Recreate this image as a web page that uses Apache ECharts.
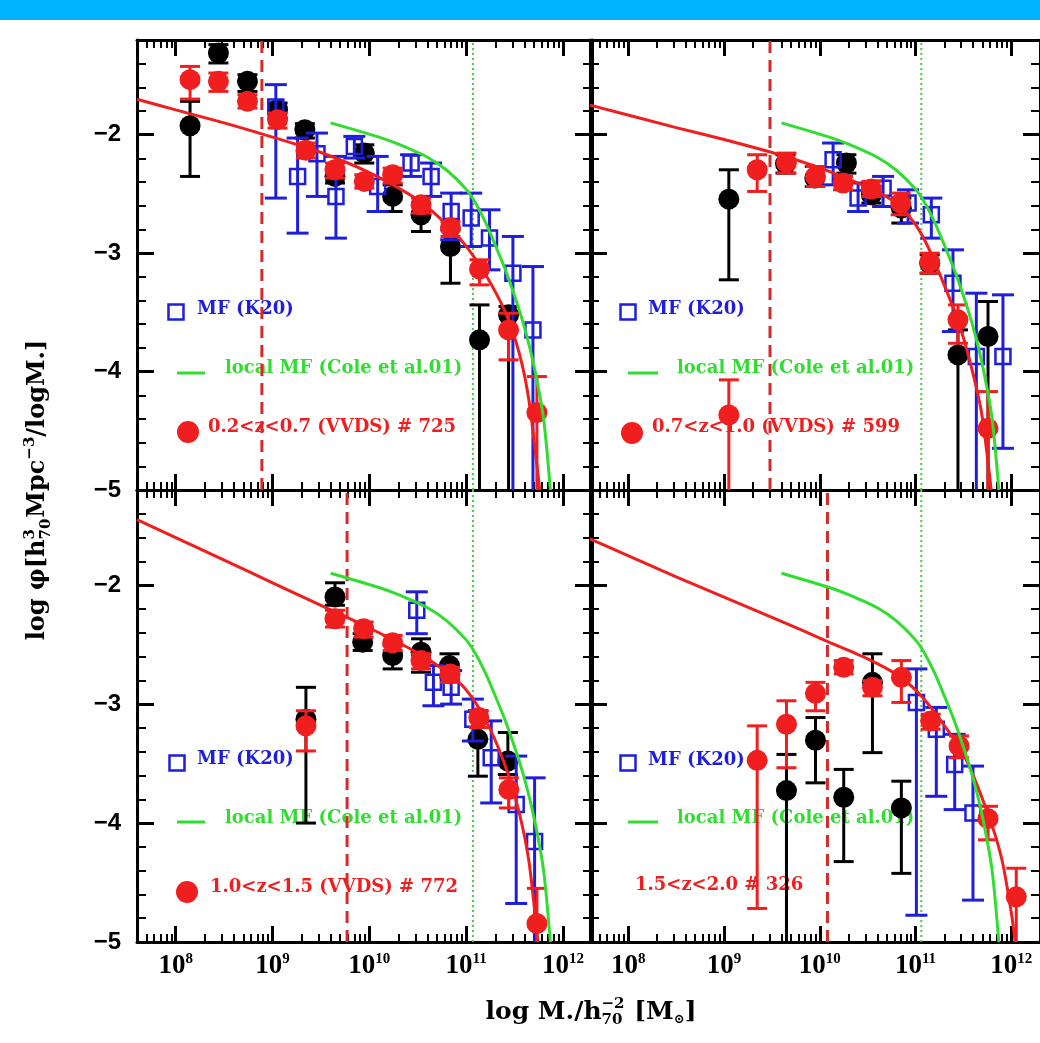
<!DOCTYPE html>
<html><head><meta charset="utf-8">
<script src="https://cdn.jsdelivr.net/npm/echarts@6/dist/echarts.min.js"></script>
<style>html,body{margin:0;padding:0;background:#fff}#c{width:1040px;height:1043px}</style>
</head><body><div id="c"></div>
<script>
// ---------------- data (log10 M, log10 phi, errLow, errHigh) ----------------
const X_MIN = 7.6, X_MAX = 12.3, Y_MIN = -5, Y_MAX = -1.2;
const xMajor = [8, 9, 10, 11, 12];
const xTickExp = ['8', '9', '10', '11', '12'];
const yMajor = [-5, -4, -3, -2];

const panelLabels = ['0.2<z<0.7 (VVDS) # 725', '0.7<z<1.0 (VVDS) # 599', '1.0<z<1.5 (VVDS) # 772', '1.5<z<2.0 # 326'];
const redCut = [8.89, 9.48, 9.77, 10.08];
const greenCut = [11.07, 11.06, 11.07, 11.06];

const TL_black = [[8.148,-1.924,-2.352,-1.718],[8.441,-1.310,-1.394,-1.239],[8.741,-1.549,-1.634,-1.493],[9.052,-1.789,-1.859,-1.732],[9.334,-1.958,-2.028,-1.907],[9.645,-2.352,-2.408,-2.296],[9.948,-2.155,-2.239,-2.085],[10.241,-2.521,-2.648,-2.423],[10.534,-2.676,-2.817,-2.577],[10.838,-2.944,-3.254,-2.803],[11.138,-3.732,-5.5,-3.437],[11.438,-3.521,-5.5,-3.450]];
const TL_red = [[8.148,-1.535,-1.699,-1.423],[8.441,-1.549,-1.634,-1.479],[8.741,-1.718,-1.775,-1.662],[9.052,-1.873,-1.944,-1.817],[9.345,-2.132,-2.197,-2.070],[9.645,-2.296,-2.366,-2.239],[9.948,-2.394,-2.451,-2.338],[10.241,-2.338,-2.408,-2.282],[10.534,-2.592,-2.662,-2.535],[10.838,-2.783,-2.859,-2.732],[11.138,-3.135,-3.268,-3.056],[11.438,-3.648,-3.901,-3.507],[11.731,-4.346,-5.5,-4.042]];
const TL_blue = [[9.034,-1.766,-2.535,-1.577],[9.259,-2.352,-2.831,-2.028],[9.459,-2.161,-2.521,-1.986],[9.655,-2.521,-2.873,-2.183],[9.845,-2.099,-2.197,-2.014],[10.086,-2.437,-2.648,-2.183],[10.431,-2.239,-2.352,-2.169],[10.638,-2.352,-2.521,-2.239],[10.845,-2.648,-2.887,-2.493],[11.052,-2.704,-2.944,-2.493],[11.241,-2.873,-3.141,-2.634],[11.483,-3.169,-5.5,-2.859],[11.690,-3.648,-5.5,-3.113]];
const TL_fit = [[7.60,-1.70],[8.0,-1.79],[8.5,-1.90],[9.0,-2.02],[9.5,-2.15],[10.0,-2.32],[10.5,-2.55],[10.8,-2.76],[11.0,-2.94],[11.2,-3.18],[11.4,-3.49],[11.55,-3.85],[11.65,-4.25],[11.76,-5.0]];

const TR_black = [[9.050,-2.544,-3.225,-2.296],[9.642,-2.245,-2.324,-2.169],[9.948,-2.366,-2.437,-2.268],[10.278,-2.239,-2.324,-2.169],[10.539,-2.507,-2.577,-2.437],[10.852,-2.620,-2.746,-2.535],[11.148,-3.085,-3.169,-3.014],[11.443,-3.859,-5.5,-3.648],[11.757,-3.704,-5.5,-3.408]];
const TR_red = [[9.050,-4.366,-5.5,-4.070],[9.346,-2.296,-2.479,-2.169],[9.652,-2.234,-2.324,-2.155],[9.955,-2.352,-2.437,-2.268],[10.243,-2.408,-2.465,-2.352],[10.539,-2.459,-2.521,-2.394],[10.845,-2.577,-2.676,-2.493],[11.148,-3.076,-3.169,-3.000],[11.443,-3.563,-3.761,-3.437],[11.757,-4.479,-5.5,-4.169]];
const TR_blue = [[10.139,-2.211,-2.423,-2.070],[10.400,-2.535,-2.648,-2.408],[10.661,-2.451,-2.606,-2.352],[10.922,-2.577,-2.746,-2.465],[11.165,-2.676,-2.873,-2.535],[11.391,-3.254,-3.662,-2.972],[11.635,-3.873,-5.5,-3.338],[11.913,-3.873,-4.648,-3.352]];
const TR_fit = [[7.60,-1.75],[8.5,-1.94],[9.0,-2.04],[9.5,-2.15],[10.0,-2.28],[10.54,-2.46],[10.8,-2.58],[11.0,-2.76],[11.15,-2.98],[11.3,-3.27],[11.44,-3.56],[11.57,-3.92],[11.69,-4.35],[11.79,-5.0]];

const BL_black = [[9.345,-3.127,-4.000,-2.859],[9.645,-2.099,-2.169,-1.980],[9.931,-2.479,-2.549,-2.408],[10.241,-2.592,-2.704,-2.507],[10.534,-2.563,-2.732,-2.451],[10.828,-2.676,-2.775,-2.577],[11.121,-3.296,-3.606,-3.056],[11.431,-3.479,-3.592,-3.239]];
const BL_red = [[9.345,-3.183,-3.394,-3.056],[9.645,-2.282,-2.352,-2.211],[9.941,-2.366,-2.437,-2.310],[10.241,-2.485,-2.549,-2.423],[10.534,-2.634,-2.704,-2.577],[10.834,-2.746,-2.817,-2.690],[11.131,-3.113,-3.197,-3.056],[11.441,-3.718,-3.873,-3.620],[11.731,-4.845,-5.5,-4.549]];
const BL_blue = [[10.490,-2.211,-2.408,-2.056],[10.662,-2.817,-3.014,-2.676],[10.845,-2.859,-3.000,-2.718],[11.069,-3.127,-3.310,-2.958],[11.259,-3.451,-3.831,-3.141],[11.517,-3.845,-4.676,-3.437],[11.707,-4.155,-5.5,-3.620]];
const BL_fit = [[7.60,-1.45],[8.0,-1.60],[8.5,-1.79],[9.0,-1.98],[9.5,-2.17],[10.0,-2.36],[10.5,-2.57],[10.8,-2.73],[11.0,-2.88],[11.2,-3.13],[11.4,-3.51],[11.55,-3.92],[11.65,-4.33],[11.74,-5.0]];

const BR_black = [[9.652,-3.727,-5.5,-3.423],[9.955,-3.304,-3.662,-3.113],[10.250,-3.783,-4.324,-3.549],[10.550,-2.817,-3.408,-2.577],[10.852,-3.873,-4.423,-3.648]];
const BR_red = [[9.346,-3.473,-4.718,-3.183],[9.652,-3.169,-3.535,-2.972],[9.955,-2.910,-3.056,-2.817],[10.250,-2.690,-2.746,-2.634],[10.550,-2.859,-2.930,-2.803],[10.852,-2.775,-2.986,-2.634],[11.158,-3.141,-3.211,-3.085],[11.454,-3.352,-3.451,-3.268],[11.757,-3.963,-4.141,-3.859],[12.052,-4.620,-5.5,-4.380]];
const BR_blue = [[11.009,-2.986,-4.775,-2.704],[11.217,-3.211,-3.775,-3.028],[11.409,-3.507,-3.887,-3.254],[11.600,-3.915,-4.648,-3.521]];
const BR_fit = [[7.60,-1.61],[8.5,-1.93],[9.5,-2.27],[10.1,-2.48],[10.5,-2.62],[10.8,-2.75],[11.0,-2.88],[11.2,-3.07],[11.5,-3.42],[11.76,-3.93],[11.9,-4.30],[12.0,-4.75],[12.04,-5.0]];

const localMF = [[9.60,-1.90],[10.1,-2.02],[10.3,-2.08],[10.6,-2.19],[10.8,-2.30],[11.0,-2.46],[11.1,-2.58],[11.2,-2.74],[11.3,-2.93],[11.4,-3.13],[11.5,-3.36],[11.6,-3.62],[11.7,-3.95],[11.8,-4.40],[11.87,-5.0]];

const blackSets = [TL_black, TR_black, BL_black, BR_black];
const redSets = [TL_red, TR_red, BL_red, BR_red];
const blueSets = [TL_blue, TR_blue, BL_blue, BR_blue];
const fitSets = [TL_fit, TR_fit, BL_fit, BR_fit];

// ---------------- styling / layout ----------------
const RED = '#f01e1e', BLACK = '#000', BLUE = '#1e1edc', GREEN = '#30dd30';
const DASH_RED = '#d42a2a', DOT_GREEN = '#44cc44';
const grids = [
  {left: 137, top: 40, width: 455, height: 450},
  {left: 590, top: 40, width: 455, height: 450},
  {left: 137, top: 490, width: 455, height: 452},
  {left: 590, top: 490, width: 455, height: 452}
];

const xMinor = [];
for (let n = 7; n <= 12; n++) for (let k = 2; k <= 9; k++) {
  const v = n + Math.log10(k);
  if (v > X_MIN && v < X_MAX) xMinor.push(v);
}
const yMinor = [];
for (let i = -24; i <= -7; i++) { if (i % 5 !== 0) yMinor.push(i / 5); }

function xAxesFor(g, labels) {
  const base = {gridIndex: g, type: 'value', min: X_MIN, max: X_MAX, splitLine: {show: false}, scale: true};
  const major = pos => Object.assign({}, base, {
    position: pos,
    axisLine: {show: true, onZero: false, lineStyle: {color: BLACK, width: 3}},
    axisTick: {show: true, inside: true, length: 16, customValues: xMajor, lineStyle: {color: BLACK, width: 3}},
    axisLabel: {show: labels && pos === 'bottom', customValues: xMajor, margin: 10,
      formatter: v => '{b|10}{e|' + xTickExp[xMajor.indexOf(Math.round(v))] + '}',
      rich: {
        b: {fontFamily: 'Liberation Serif', fontWeight: 'bold', fontSize: 27, lineHeight: 28, color: BLACK},
        e: {fontFamily: 'Liberation Serif', fontWeight: 'bold', fontSize: 15, lineHeight: 16, verticalAlign: 'top', color: BLACK}
      }}
  });
  const minor = pos => Object.assign({}, base, {
    position: pos,
    axisLine: {show: false, onZero: false},
    axisTick: {show: true, inside: true, length: 8, customValues: xMinor, lineStyle: {color: BLACK, width: 2}},
    axisLabel: {show: false}
  });
  return [major('bottom'), minor('bottom'), major('top'), minor('top')];
}
function yAxesFor(g, labels) {
  const base = {gridIndex: g, type: 'value', min: Y_MIN, max: Y_MAX, splitLine: {show: false}, scale: true};
  const major = pos => Object.assign({}, base, {
    position: pos,
    axisLine: {show: true, onZero: false, lineStyle: {color: BLACK, width: 3}},
    axisTick: {show: true, inside: true, length: 17, customValues: yMajor, lineStyle: {color: BLACK, width: 3}},
    axisLabel: {show: labels && pos === 'left', customValues: yMajor, margin: 16,
      formatter: v => '\u2212' + Math.abs(Math.round(v)),
      fontFamily: 'Liberation Sans', fontWeight: 'bold', fontSize: 24, color: BLACK}
  });
  const minor = pos => Object.assign({}, base, {
    position: pos,
    axisLine: {show: false, onZero: false},
    axisTick: {show: true, inside: true, length: 9, customValues: yMinor, lineStyle: {color: BLACK, width: 2}},
    axisLabel: {show: false}
  });
  return [major('left'), minor('left'), major('right'), minor('right')];
}

function errBar(color, capHalf) {
  return function (params, api) {
    const x = api.value(0), lo = api.value(2), hi = api.value(3);
    const cs = params.coordSys;
    const pt = api.coord([x, hi]), pb = api.coord([x, lo]);
    const y1 = Math.max(pt[1], cs.y), y2 = Math.min(pb[1], cs.y + cs.height);
    const st = {stroke: color, lineWidth: 3};
    const ch = [{type: 'line', shape: {x1: pt[0], y1: y1, x2: pt[0], y2: y2}, style: st}];
    if (pt[1] >= cs.y) ch.push({type: 'line', shape: {x1: pt[0] - capHalf, y1: pt[1], x2: pt[0] + capHalf, y2: pt[1]}, style: st});
    if (pb[1] <= cs.y + cs.height) ch.push({type: 'line', shape: {x1: pb[0] - capHalf, y1: pb[1], x2: pb[0] + capHalf, y2: pb[1]}, style: st});
    return {type: 'group', children: ch};
  };
}

const xAxis = [], yAxis = [], series = [];
for (let g = 0; g < 4; g++) {
  xAxis.push(...xAxesFor(g, g >= 2));
  yAxis.push(...yAxesFor(g, g % 2 === 0));
  const ax = {xAxisIndex: 4 * g, yAxisIndex: 4 * g};
  series.push(Object.assign({type: 'line', data: [[redCut[g], Y_MIN], [redCut[g], Y_MAX]], showSymbol: false, symbol: 'none',
    lineStyle: {color: DASH_RED, width: 3, type: [12, 7]}, z: 1, silent: true}, ax));
  series.push(Object.assign({type: 'line', data: [[greenCut[g], Y_MIN], [greenCut[g], Y_MAX]], showSymbol: false, symbol: 'none',
    lineStyle: {color: DOT_GREEN, width: 2, type: [2, 3]}, z: 1, silent: true}, ax));
  series.push(Object.assign({type: 'custom', data: blackSets[g], renderItem: errBar(BLACK, 10), encode: {x: 0, y: 1}, z: 2, silent: true}, ax));
  series.push(Object.assign({type: 'scatter', data: blackSets[g].map(d => [d[0], d[1]]), symbol: 'circle', symbolSize: 21,
    itemStyle: {color: BLACK, opacity: 1}, z: 3, silent: true}, ax));
  series.push(Object.assign({type: 'custom', data: blueSets[g], renderItem: errBar(BLUE, 11), encode: {x: 0, y: 1}, z: 4, silent: true}, ax));
  series.push(Object.assign({type: 'scatter', data: blueSets[g].map(d => [d[0], d[1]]), symbol: 'rect', symbolSize: 15,
    itemStyle: {color: 'rgba(0,0,0,0)', borderColor: BLUE, borderWidth: 2.5, opacity: 1}, z: 5, silent: true}, ax));
  series.push(Object.assign({type: 'custom', data: redSets[g], renderItem: errBar(RED, 10), encode: {x: 0, y: 1}, z: 6, silent: true}, ax));
  series.push(Object.assign({type: 'scatter', data: redSets[g].map(d => [d[0], d[1]]), symbol: 'circle', symbolSize: 21,
    itemStyle: {color: RED, opacity: 1}, z: 7, silent: true}, ax));
  series.push(Object.assign({type: 'line', data: fitSets[g], smooth: 0.25, showSymbol: false, symbol: 'none',
    lineStyle: {color: RED, width: 3}, z: 8, silent: true}, ax));
  series.push(Object.assign({type: 'line', data: localMF, smooth: 0.25, showSymbol: false, symbol: 'none',
    lineStyle: {color: GREEN, width: 3}, z: 9, silent: true}, ax));
}

// ---------------- texts (titles, in-panel legends) ----------------
const mctx = document.createElement('canvas').getContext('2d');
const SERIF = '"DejaVu Serif", "DejaVu Sans", serif';
function fnt(size) { return 'bold ' + size + 'px ' + SERIF; }
function tw(t, size) { mctx.font = fnt(size); return mctx.measureText(t).width; }
function txt(t, x, y, size, color, align) {
  return {type: 'text', x: x, y: y, silent: true, style: {text: t, font: fnt(size), fill: color || BLACK,
    textAlign: align || 'left', textVerticalAlign: 'middle', align: align || 'left', verticalAlign: 'middle'}};
}
function scriptLine(pieces, cx, cy, rot) {
  let total = 0;
  const widths = pieces.map(p => {
    const w = p.stack ? Math.max(tw(p.stack[0], p.size), tw(p.stack[1], p.size)) + 1 : tw(p.t, p.size);
    total += w; return w;
  });
  let off = -total / 2; const ch = [];
  pieces.forEach((p, i) => {
    if (p.stack) { ch.push(txt(p.stack[0], off, p.up, p.size)); ch.push(txt(p.stack[1], off, p.down, p.size)); }
    else ch.push(txt(p.t, off, p.dy || 0, p.size));
    off += widths[i];
  });
  return {type: 'group', x: cx, y: cy, rotation: rot || 0, children: ch, silent: true};
}

const graphics = [
  {type: 'rect', shape: {x: 0, y: 0, width: 1040, height: 20}, style: {fill: '#00b4ff'}, silent: true},
  scriptLine([{t: 'log M./h', size: 25}, {stack: ['\u22122', '70'], size: 15, up: -8, down: 8},
    {t: ' [M', size: 25}, {t: '\u2299', size: 13, dy: 8}, {t: ']', size: 25}], 591, 1012, 0),
  scriptLine([{t: 'log \u03c6[h', size: 24}, {stack: ['3', '70'], size: 15, up: -8, down: 8},
    {t: 'Mpc', size: 24}, {t: '\u22123', size: 15, dy: -8}, {t: '/logM.]', size: 24}], 38, 490, Math.PI / 2)
];

const legendPos = [
  {sq: [176, 312], t1: [197, 309], gl: [177, 205, 373], t2: [225, 368], dot: [188, 432], t3: [208, 427]},
  {sq: [628, 312], t1: [648, 309], gl: [628, 658, 373], t2: [677, 368], dot: [632, 433], t3: [652, 427]},
  {sq: [177, 763], t1: [197, 759], gl: [177, 205, 822], t2: [225, 818], dot: [187, 892], t3: [210, 887]},
  {sq: [628, 763], t1: [648, 760], gl: [628, 658, 822], t2: [677, 818], dot: null, t3: [635, 885]}
];
legendPos.forEach((L, g) => {
  graphics.push({type: 'rect', shape: {x: L.sq[0] - 7.5, y: L.sq[1] - 7.5, width: 15, height: 15},
    style: {fill: 'none', stroke: BLUE, lineWidth: 2.5}, silent: true});
  graphics.push(txt('MF (K20)', L.t1[0], L.t1[1], 18, BLUE));
  graphics.push({type: 'line', shape: {x1: L.gl[0], y1: L.gl[2], x2: L.gl[1], y2: L.gl[2]},
    style: {stroke: GREEN, lineWidth: 3}, silent: true});
  graphics.push(txt('local MF (Cole et al.01)', L.t2[0], L.t2[1], 18, GREEN));
  if (L.dot) graphics.push({type: 'circle', shape: {cx: L.dot[0], cy: L.dot[1], r: 11}, style: {fill: RED}, silent: true});
  graphics.push(txt(panelLabels[g], L.t3[0], L.t3[1], 18, RED));
});

const chart = echarts.init(document.getElementById('c'), null, {renderer: 'canvas'});
chart.setOption({
  backgroundColor: '#fff',
  animation: false,
  grid: grids,
  xAxis: xAxis,
  yAxis: yAxis,
  series: series,
  graphic: graphics
});
</script></body></html>
